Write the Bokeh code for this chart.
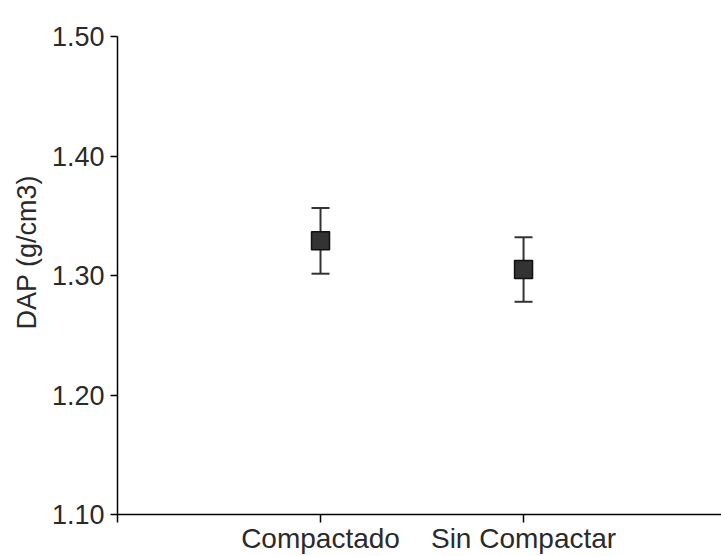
from bokeh.embed import file_html
from bokeh.models import (ColumnDataSource, FixedTicker, PrintfTickFormatter,
                          Range1d, TeeHead, Title, Whisker)
from bokeh.plotting import figure
from bokeh.resources import INLINE

# Mean bulk density per treatment and the half-width of its error bar
categories = ["Compactado", "Sin Compactar"]
dap_mean = [1.329, 1.305]
dap_err = [0.0275, 0.027]
y_ticks = [1.10, 1.20, 1.30, 1.40, 1.50]

FONT = "Liberation Sans"
TEXT_COLOR = "#2a2a2a"

xpos = [i + 1 for i in range(len(categories))]
src = ColumnDataSource(dict(
    x=xpos,
    y=dap_mean,
    upper=[m + e for m, e in zip(dap_mean, dap_err)],
    lower=[m - e for m, e in zip(dap_mean, dap_err)],
))

p = figure(width=721, height=556, output_backend="svg", toolbar_location=None,
           x_range=Range1d(0, 2.975), y_range=Range1d(1.10, 1.50),
           min_border_left=117, min_border_right=0, min_border_top=36,
           min_border_bottom=40)
p.outline_line_color = None
p.grid.visible = False
p.background_fill_color = "white"
p.border_fill_color = "white"

# error bars with flat caps
whisk = Whisker(source=src, base="x", upper="upper", lower="lower",
                line_color="#333333", line_width=2,
                upper_head=TeeHead(size=18, line_color="#333333", line_width=2),
                lower_head=TeeHead(size=18, line_color="#333333", line_width=2))
p.add_layout(whisk)

# mean markers
p.scatter("x", "y", source=src, marker="square", size=18,
          fill_color="#333333", line_color="#111111", line_width=1.5)

# x axis: one tick at the origin plus one per treatment
p.xaxis.ticker = FixedTicker(ticks=[0] + xpos)
p.xaxis.major_label_overrides = {0: ""} | {x: c for x, c in zip(xpos, categories)}
p.xaxis.major_tick_out = 8
p.xaxis.major_tick_in = 0
p.xaxis.minor_tick_line_color = None
p.xaxis.major_label_standoff = 0
p.xaxis.major_label_text_font = FONT
p.xaxis.major_label_text_font_size = "28px"
p.xaxis.major_label_text_color = TEXT_COLOR

# y axis
p.yaxis.ticker = FixedTicker(ticks=y_ticks)
p.yaxis.formatter = PrintfTickFormatter(format="%.2f")
p.yaxis.major_tick_out = 7
p.yaxis.major_tick_in = 0
p.yaxis.minor_tick_line_color = None
p.yaxis.major_label_standoff = 6
p.yaxis.major_label_text_font = FONT
p.yaxis.major_label_text_font_size = "27px"
p.yaxis.major_label_text_color = TEXT_COLOR

for ax in (p.xaxis, p.yaxis):
    ax.axis_line_color = "black"
    ax.axis_line_width = 1.5
    ax.major_tick_line_color = "black"
    ax.major_tick_line_width = 1.5

# vertical axis title in the left margin, anchored from the bottom of the frame
p.add_layout(Title(text="DAP (g/cm3)", align="left", offset=185, standoff=14,
                   text_font=FONT, text_font_size="27px", text_font_style="normal",
                   text_color=TEXT_COLOR), "left")

open("out.html", "w").write(file_html(p, INLINE))
